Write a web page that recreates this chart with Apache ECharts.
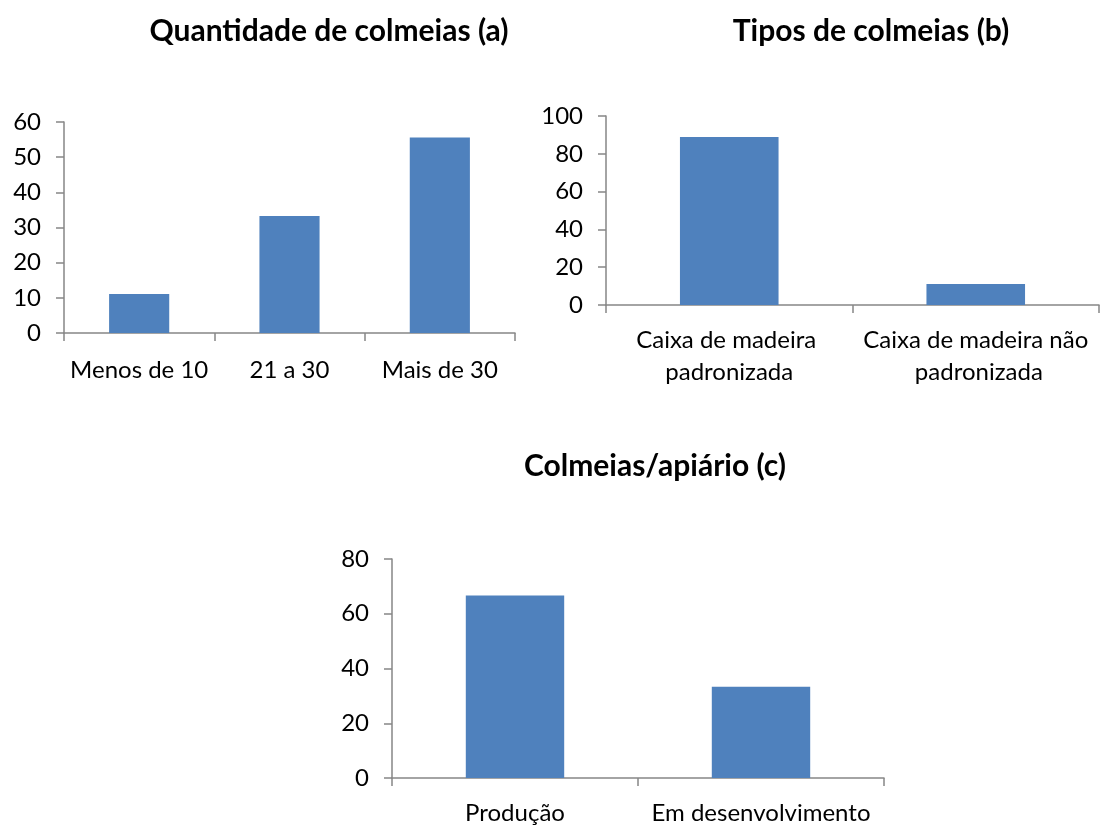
<!DOCTYPE html>
<html>
<head>
<meta charset="utf-8">
<script src="https://cdn.jsdelivr.net/npm/echarts@6/dist/echarts.min.js"></script>
<style>
  html, body { margin: 0; padding: 0; background: #ffffff; }
  #chart { width: 1100px; height: 826px; }
</style>
</head>
<body>
<div id="chart"></div>
<script>
// ---- Data ----
const titles = ['Quantidade de colmeias (a)', 'Tipos de colmeias (b)', 'Colmeias/apiário (c)'];

const catsA = ['Menos de 10', '21 a 30', 'Mais de 30'];
const valsA = [11.1, 33.3, 55.6];

const catsB = ['Caixa de madeira padronizada', 'Caixa de madeira não padronizada'];
const valsB = [88.9, 11.1];

const catsC = ['Produção', 'Em desenvolvimento'];
const valsC = [66.7, 33.3];

const yMax = [60, 100, 80];
const yStep = [10, 20, 20];

// ---- Styling ----
const FONT = 'Lato, "Noto Sans", sans-serif';
const AXIS_COLOR = '#868686';
const BAR_COLOR = '#4F81BD';

const grids = [
  { left: 64, top: 122, width: 451, height: 211 },
  { left: 606, top: 116, width: 493, height: 189 },
  { left: 392, top: 559, width: 492, height: 219 }
];

const titlePos = [[329, 31], [871, 31], [655, 466]];
const xLabelMargin = [25, 19, 23];

function xAxisFor(i, cats) {
  return {
    type: 'category', gridIndex: i, data: cats,
    axisLine: { show: true, lineStyle: { color: AXIS_COLOR, width: 1.5 } },
    axisTick: { show: true, length: 8, lineStyle: { color: AXIS_COLOR, width: 1.5 } },
    axisLabel: {
      interval: 0, color: '#000', fontFamily: FONT, fontSize: 24,
      margin: xLabelMargin[i], width: 240, overflow: 'break', lineHeight: i === 1 ? 32 : 24
    },
    splitLine: { show: false }
  };
}
function yAxisFor(i) {
  return {
    type: 'value', gridIndex: i, min: 0, max: yMax[i], interval: yStep[i],
    axisLine: { show: true, lineStyle: { color: AXIS_COLOR, width: 1.5 } },
    axisTick: { show: true, length: 8, lineStyle: { color: AXIS_COLOR, width: 1.5 } },
    axisLabel: { color: '#000', fontFamily: FONT, fontSize: 24, margin: 23 },
    splitLine: { show: false }
  };
}
function barSeries(i, vals) {
  return {
    type: 'bar', xAxisIndex: i, yAxisIndex: i, data: vals,
    barWidth: '40%', itemStyle: { color: BAR_COLOR }, silent: true
  };
}

const chart = echarts.init(document.getElementById('chart'), null, { renderer: 'canvas' });
chart.setOption({
  animation: false,
  backgroundColor: '#ffffff',
  grid: grids,
  xAxis: [xAxisFor(0, catsA), xAxisFor(1, catsB), xAxisFor(2, catsC)],
  yAxis: [yAxisFor(0), yAxisFor(1), yAxisFor(2)],
  series: [barSeries(0, valsA), barSeries(1, valsB), barSeries(2, valsC)],
  graphic: titles.map((t, i) => ({
    type: 'text', x: titlePos[i][0], y: titlePos[i][1],
    style: {
      text: t, fill: '#000', font: 'bold 30px ' + FONT,
      textAlign: 'center', textVerticalAlign: 'middle'
    }
  }))
});
</script>
</body>
</html>
